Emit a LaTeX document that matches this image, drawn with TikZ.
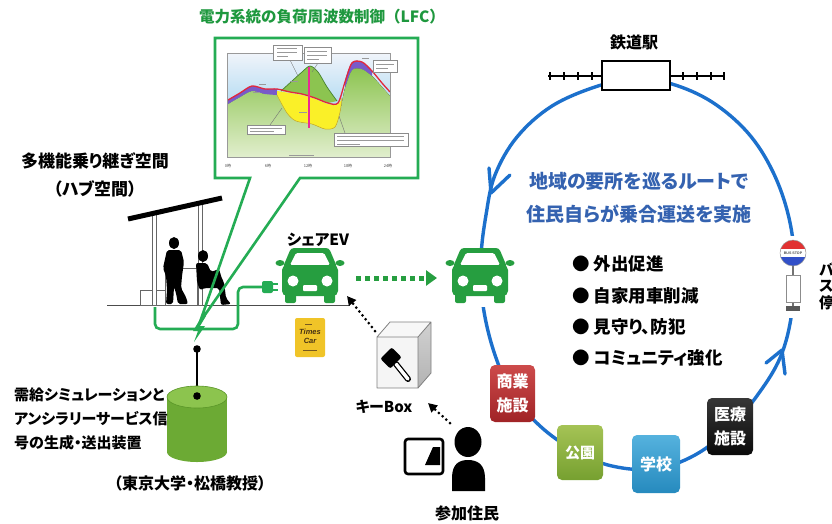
\documentclass[tikz,border=0pt]{standalone}
\usepackage{fontspec}
\setmainfont{Noto Sans CJK JP}[RawFeature=+palt]
\newfontfamily\jpwide{Noto Sans CJK JP}
\newfontfamily\latin{Liberation Sans}
\usetikzlibrary{arrows.meta}

\definecolor{titlegreen}{RGB}{30,152,62}
\definecolor{callgreen}{RGB}{36,172,84}
\definecolor{evgreen}{RGB}{38,158,64}
\definecolor{ringblue}{RGB}{28,112,204}
\definecolor{textblue}{RGB}{52,98,176}
\definecolor{sky}{RGB}{176,218,242}
\definecolor{skypale}{RGB}{240,244,250}
\definecolor{hill}{RGB}{140,196,80}
\definecolor{hilllight}{RGB}{225,238,205}
\definecolor{hilldark}{RGB}{70,130,45}
\definecolor{plotyellow}{RGB}{250,240,40}
\definecolor{plotochre}{RGB}{200,170,40}
\definecolor{plotpurple}{RGB}{120,90,200}
\definecolor{plotred}{RGB}{226,40,60}
\definecolor{plotmagenta}{RGB}{235,40,150}
\definecolor{timesyellow}{RGB}{240,196,40}
\definecolor{timesbrown}{RGB}{70,50,20}
\definecolor{timesline}{RGB}{120,90,30}
\definecolor{cylbody}{RGB}{108,170,52}
\definecolor{cyltop}{RGB}{140,196,78}
\definecolor{cyledge}{RGB}{90,150,40}
\definecolor{signred}{RGB}{225,50,50}
\definecolor{signblue}{RGB}{50,80,200}
\definecolor{shoptop}{RGB}{205,75,75}
\definecolor{shopbot}{RGB}{160,35,38}
\definecolor{parktop}{RGB}{165,195,85}
\definecolor{parkbot}{RGB}{118,160,48}
\definecolor{schooltop}{RGB}{85,178,222}
\definecolor{schoolbot}{RGB}{38,138,190}
\definecolor{clinictop}{RGB}{55,55,55}
\definecolor{clinicbot}{RGB}{10,10,10}

\tikzset{
  txt/.style 2 args={inner sep=0pt, font=\bfseries\fontsize{#1}{#2}\selectfont},
  ring/.style={ringblue, line width=3.4pt, line cap=round, line join=round},
  placebox/.style={rounded corners=5pt, text=white, align=center, inner sep=0pt,
    font=\bfseries\fontsize{16}{24}\selectfont},
  keyarrow/.style={black, line width=3pt, dash pattern=on 0pt off 5pt, line cap=round,
    -{Triangle[length=9pt,width=9pt]}},
  evarrow/.style={evgreen, line width=5pt, dash pattern=on 5pt off 4pt,
    -{Triangle[length=11pt,width=15pt]}},
  tinybox/.style={fill=white, draw=black!45, line width=0.4pt},
  tinyline/.style={black!40, line width=0.6pt},
}

% an electric car icon centred at #1
\newcommand\evcar[1]{%
  \begin{scope}[shift={#1}]
    \fill[evgreen, rounded corners=3pt] (-19,-27) -- (19,-27) -- (27,-8) -- (-27,-8) -- cycle;
    \fill[white, rounded corners=1.5pt] (-14,-22) -- (14,-22) -- (20,-10) -- (-20,-10) -- cycle;
    \fill[evgreen, rounded corners=5pt] (-28,-10) rectangle (28,21);
    \fill[evgreen] (-30,-12) ellipse (4.5 and 3);
    \fill[evgreen] (30,-12) ellipse (4.5 and 3);
    \fill[white] (-17,6) circle (5.5);
    \fill[white] (17,6) circle (5.5);
    \fill[white, rounded corners=1pt] (-7,10) rectangle (7,16);
    \fill[evgreen, rounded corners=2pt] (-25,17) rectangle (-14,28);
    \fill[evgreen, rounded corners=2pt] (14,17) rectangle (25,28);
  \end{scope}}

\begin{document}
\begin{tikzpicture}[x=1pt,y=-1pt]
\useasboundingbox (0,0) rectangle (832,523);
\fill[white] (0,0) rectangle (832,523);

% ---------------- route ring ----------------
\draw[ring] plot[smooth cycle, tension=0.6] coordinates {
  (636,79) (672,84) (712,102) (748,133) (773,172) (789,218) (795,268)
  (791,318) (780,358) (759,393) (730,428) (695,455) (655,469) (612,466)
  (575,451) (540,426) (512,393) (494,352) (483,305) (481,258) (486,215)
  (495,175) (517,137) (552,106) (598,86)};
\coordinate (tipL) at (491,193);
\draw[ring] (489,168) -- (tipL) -- (510,175);
\coordinate (tipR) at (782,350);
\draw[ring] (766,363) -- (tipR) -- (785,374);

% stops on the route
\node[placebox, top color=shoptop, bottom color=shopbot,
  minimum width=45pt, minimum height=57pt] (shop) at (512.5,393.5) {商業\\施設};
\node[placebox, top color=parktop, bottom color=parkbot,
  minimum width=46pt, minimum height=55pt, font=\bfseries\fontsize{15}{18}\selectfont] (park) at (580,452.5) {公園};
\node[placebox, top color=schooltop, bottom color=schoolbot,
  minimum width=48pt, minimum height=58pt] (school) at (656,464) {学校};
\node[placebox, top color=clinictop, bottom color=clinicbot,
  minimum width=46pt, minimum height=57pt] (clinic) at (730,426.5) {医療\\施設};

% railway station
\draw[line width=1.6pt] (548,76) -- (725,76);
\foreach \t in {550,564,578,592,683,697,711,724}
  \draw[line width=1.2pt] (\t,72) -- (\t,80);
\node[draw=black, fill=white, line width=2pt, minimum width=68pt, minimum height=29pt, inner sep=0pt]
  (station) at (636,75.5) {};
\node[txt={16}{18}] (stationlbl) at (634,42) {鉄道駅};

% bus stop
\fill[white] (781,236) rectangle (807,318);
\draw[black!55, line width=1.6pt] (793,262) -- (793,308);
\node[fill=white, draw=black!45, line width=0.6pt, minimum width=14pt, minimum height=27pt, inner sep=0pt]
  (panel) at (793,288.5) {};
\fill[black!65] (786,306) rectangle (800,311);
\begin{scope}
  \clip (793,253) circle (13);
  \fill[signred] (779,239) rectangle (807,253);
  \fill[signblue] (779,253) rectangle (807,267);
  \fill[white] (779,249) rectangle (807,257);
\end{scope}
\draw[black!40, line width=0.5pt] (793,253) circle (13);
\node[inner sep=0pt, font=\latin\bfseries\fontsize{3.6}{4}\selectfont, text=black!70] (busstop) at (793,253) {BUS STOP};
\node[txt={15}{16}, anchor=west] (ba) at (819,269) {バ};
\node[txt={15}{16}, anchor=west] (su) at (819,286) {ス};
\node[txt={15}{16}, anchor=west] (tei) at (819,303) {停};

% route description
\node[txt={19}{22}, text=textblue] (route1) at (639,181) {地域の要所を巡るルートで};
\node[txt={19}{22}, text=textblue] (route2) at (639,214) {住民自らが乗合運送を実施};
\node[txt={17.5}{20}, anchor=west] (b1) at (572,264) {● 外出促進};
\node[txt={17.5}{20}, anchor=west] (b2) at (572,296) {● 自家用車削減};
\node[txt={17.5}{20}, anchor=west] (b3) at (572,327) {● 見守り、防犯};
\node[txt={17.5}{20}, anchor=west] (b4) at (572,358) {● コミュニティ強化};

% ---------------- hub shelter ----------------
\draw[black!70, line width=0.9pt] (107,305) -- (350,305);
\draw[fill=white, draw=black!60, line width=0.7pt] (140,290) rectangle (165,305);
\draw[fill=white, draw=black!60, line width=0.7pt] (165,268) rectangle (197,305);
\draw[fill=white, draw=black!60, line width=0.7pt] (152,213) rectangle (156,305);
\draw[fill=white, draw=black!60, line width=0.7pt] (198,203) rectangle (202,305);
\draw[line width=5pt] (128,219) -- (222,198);
% walking person
\fill (174,243) ellipse (5 and 6);
\fill[rounded corners=2pt] (167,250) -- (181,250) -- (184,262) -- (182,276) -- (181,288)
  -- (186,297) -- (188,304) -- (178,304) -- (176,293) -- (174,287) -- (173,304)
  -- (166,304) -- (167,290) -- (166,276) -- (163,268) -- cycle;
% seated person
\fill (203,256) ellipse (5 and 6);
\fill[rounded corners=2pt] (196,263) -- (207,263) -- (211,272) -- (219,269) -- (222,279)
  -- (224,282) -- (226,298) -- (231,304) -- (221,305) -- (219,288) -- (205,288)
  -- (200,290) -- (197,282) -- cycle;

% charging line and plug
\draw[callgreen, line width=2.6pt, rounded corners=5pt] (155,307) -- (155,329) -- (238,329) -- (238,287) -- (263,287);
\fill[callgreen, rounded corners=2pt] (262,281) rectangle (273,293);
\draw[callgreen, line width=2pt] (272,284) -- (278,284) (272,290) -- (278,290);
% lightning
\fill[callgreen] (202,316) -- (193,331) -- (198,331) -- (194,342) -- (205,326) -- (200,326) -- (206,316) -- cycle;

% signal device
\fill[black] (197,349) circle (3.8);
\draw[line width=1.4pt] (197,349) -- (197,396);
\fill[cylbody] (167,397) rectangle (227,452);
\fill[cylbody] (197,452) ellipse (30 and 10);
\fill[cyltop] (197,397) ellipse (30 and 11);
\draw[cyledge, line width=0.6pt] (197,397) ellipse (30 and 11);
\fill[black] (197,396) circle (3.8);

% ---------------- LFC chart callout ----------------
\fill[white] (215,38) rectangle (418,178);
\begin{scope}
  \fill[skypale] (227,53) rectangle (390,157);
  \fill[top color=skypale, bottom color=sky] (227,53) rectangle (390,108);
  % base generation
  \fill[top color=hill, bottom color=hilllight]
    (228,157) -- plot[smooth] coordinates {(228,104) (240,97) (252,91) (265,94) (277,95)
    (287,113) (296,121) (312,124) (325,129) (335,127) (340,112) (345,88) (352,70)
    (362,69) (372,76) (382,87) (390,96)} -- (390,157) -- cycle;
  % purple layers
  \fill[plotpurple] plot[smooth] coordinates {(228,100) (240,93) (252,86) (265,89) (277,89)}
    -- plot[smooth] coordinates {(277,95) (265,94) (252,91) (240,97) (228,104)} -- cycle;
  \fill[plotpurple] plot[smooth] coordinates {(345,80) (352,62) (362,62) (372,71)}
    -- plot[smooth] coordinates {(372,76) (362,69) (352,70) (345,88)} -- cycle;
  % yellow band
  \fill[plotyellow] plot[smooth] coordinates {(277,91) (290,93) (302,95) (315,99) (328,104) (338,104) (342,98)}
    -- plot[smooth] coordinates {(340,112) (335,127) (325,129) (312,124) (296,121) (287,113) (277,95)} -- cycle;
  \draw[plotochre, line width=0.5pt]
    plot[smooth] coordinates {(277,95) (287,113) (296,121) (312,124) (325,129) (335,127) (340,112) (342,98)};
  % green hill over the yellow band
  \fill[hill] plot[smooth] coordinates {(281,91) (292,81) (302,72) (310,66) (318,72) (327,87) (337,101)}
    -- plot[smooth] coordinates {(328,103) (315,98) (302,94) (290,92)} -- cycle;
  \draw[hilldark, line width=0.7pt] plot[smooth] coordinates {(281,91) (292,81) (302,72) (310,66) (318,72) (327,87) (337,101)};
  % demand curve
  \draw[plotred, line width=1.3pt] plot[smooth] coordinates {(228,100) (240,93) (252,86) (265,89)
    (277,89) (290,92) (302,94) (315,98) (328,103) (338,103) (345,82) (352,63) (362,62)
    (372,71) (382,83) (390,92)};
  \draw[plotmagenta, line width=1.5pt] (309,67) -- (309,128);
  \draw[black!40, line width=0.4pt] (227,53) rectangle (390,157);
  % annotation boxes
  \draw[black!55, line width=0.4pt] (290,60) -- (298,76) (318,63) -- (312,72)
    (270,125) -- (282,108) (345,133) -- (339,116);
  \node[tinybox, minimum width=29pt, minimum height=15pt, inner sep=0pt] (n1) at (287.5,52.5) {};
  \node[tinybox, minimum width=27pt, minimum height=16pt, inner sep=0pt] (n2) at (317.5,55) {};
  \node[tinybox, minimum width=24pt, minimum height=12pt, inner sep=0pt] (n3) at (385,66) {};
  \node[tinybox, minimum width=38pt, minimum height=9pt, inner sep=0pt] (n4) at (266,129.5) {};
  \node[tinybox, minimum width=74pt, minimum height=13pt, inner sep=0pt] (n5) at (371,139.5) {};
  \draw[tinyline] (277,48) -- (297,48) (277,52) -- (297,52) (277,56) -- (288,56)
    (307,51) -- (327,51) (307,55) -- (327,55) (307,59) -- (319,59)
    (376,64) -- (394,64) (376,68) -- (388,68)
    (250,128) -- (282,128) (250,131.5) -- (274,131.5)
    (337,136) -- (404,136) (337,140) -- (404,140) (337,144) -- (360,144)
    (289,155) -- (314,155)
    (253,92) -- (260,92) (259,84) -- (266,84) (290,81) -- (298,81) (299,112) -- (307,112)
    (362,58) -- (369,58);
  \foreach \x/\h in {228/0時, 268/6時, 308/12時, 348/18時, 388/24時}
    \node[inner sep=0pt, font=\fontsize{4}{4}\selectfont, text=black!70] at (\x,166) {\h};
\end{scope}
\draw[callgreen, line width=2.6pt, line join=miter]
  (250,178) -- (215,178) -- (215,38) -- (418,38) -- (418,178) -- (300,178) -- (200,322) -- cycle;
\node[titlegreen, inner sep=0pt, font=\jpwide\bfseries\fontsize{15.5}{18}\selectfont] (lfc) at (322,17)
  {電力系統の負荷周波数制御（LFC）};

% ---------------- left texts ----------------
\node[txt={17}{20}] (hub1) at (95,161) {多機能乗り継ぎ空間};
\node[txt={17}{20}] (hub2) at (95,189) {（ハブ空間）};
\node[txt={15}{24}, anchor=north west, align=left] (device) at (14,387)
  {需給シミュレーションと\\アンシラリーサービス信\\号の生成・送出装置};
\node[txt={16}{18}] (utokyo) at (190,483) {（東京大学・松橋教授）};

% ---------------- cars and key box ----------------
\evcar{(310,275)}
\node[txt={15.5}{18}] (evlbl) at (318,240) {シェアEV};
\fill[white] (446,250) rectangle (514,307);
\evcar{(480,275)}
\coordinate (ev1e) at (356,278);
\coordinate (ev2w) at (437,278);
\draw[evarrow] (ev1e) -- (ev2w);

% car sharing logo
\fill[timesyellow, rounded corners=2pt] (295,318) rectangle (325,357);
\node[inner sep=0pt, font=\latin\bfseries\itshape\fontsize{7.5}{8}\selectfont, text=timesbrown] (times) at (310,332) {Times};
\node[inner sep=0pt, font=\latin\bfseries\itshape\fontsize{7.5}{8}\selectfont, text=timesbrown] (car) at (310,341) {Car};
\draw[timesline, line width=0.6pt] (305,324) -- (312,324) (303,350) -- (317,350);

% key box
\fill[black!3] (377,337) -- (390,322) -- (431,322) -- (418,337) -- cycle;
\shade[top color=black!18, bottom color=black!30] (418,337) -- (431,322) -- (431,373) -- (418,388) -- cycle;
\fill[black!4] (377,337) rectangle (418,388);
\draw[black!50, line width=0.8pt, line join=round] (377,337) -- (390,322) -- (431,322) -- (431,373) -- (418,388)
  -- (377,388) -- cycle (377,337) -- (418,337) -- (431,322) (418,337) -- (418,388);
\node[inner sep=0pt, minimum size=0pt] (keybox) at (404,355) {};
\draw[line width=6pt, line cap=round] (396,364) -- (408,379);
\draw[white, line width=3.4pt, line cap=round] (396,364) -- (408,379);
\fill[rotate around={45:(391,358)}, rounded corners=2pt] (383,351) rectangle (399,365);
\node[txt={15}{18}] (keylbl) at (384,407) {キーBox};
\coordinate (kfrom) at (375,331);
\coordinate (kto) at (347,296);
\draw[keyarrow] (kfrom) -- (kto);
\coordinate (pfrom) at (450,423);
\coordinate (pto) at (428,403);
\draw[keyarrow] (pfrom) -- (pto);

% participant with tablet
\draw[line width=2.6pt, rounded corners=3pt] (405,439) rectangle (443,474);
\fill (433,447) -- (440,447) -- (440,465) -- (425,465) -- cycle;
\fill (468,442) ellipse (13.5 and 15);
\fill (452,491) -- (452,478) .. controls (452,464) and (459,460) .. (468,460)
  .. controls (477,460) and (485,464) .. (485,478) -- (485,491) -- cycle;
\node[txt={16}{18}] (resident) at (467,513) {参加住民};
\end{tikzpicture}
\end{document}
